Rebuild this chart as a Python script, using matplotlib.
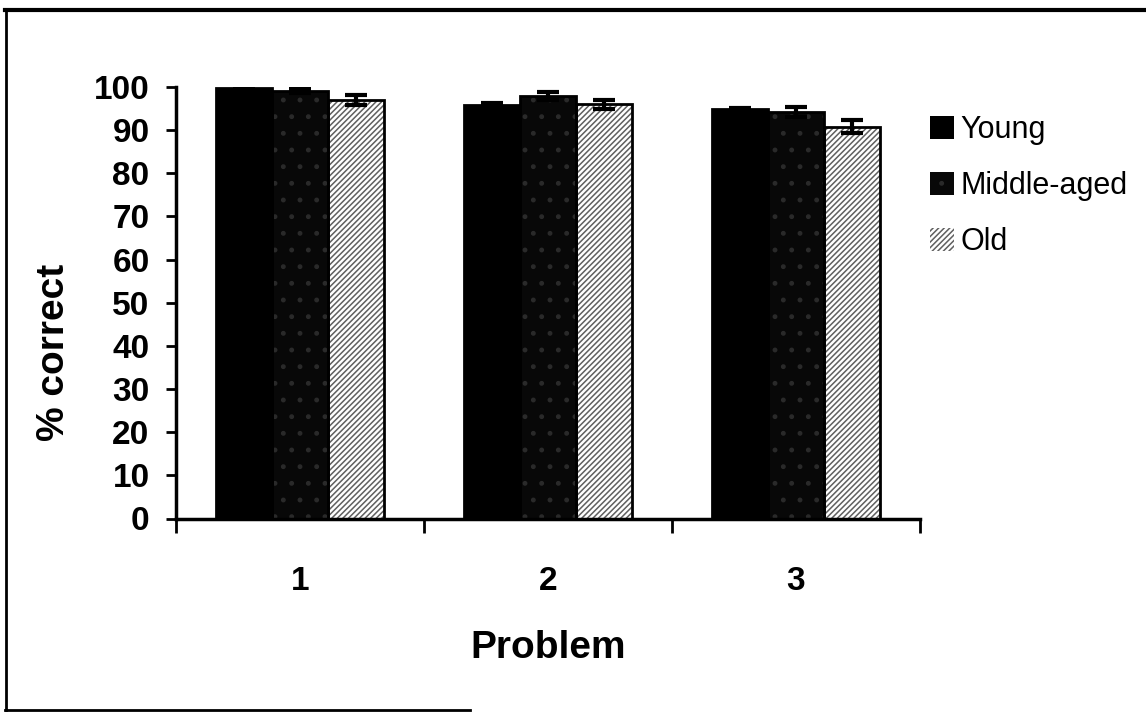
import matplotlib
matplotlib.use("Agg")
import matplotlib.pyplot as plt
import numpy as np
from matplotlib.lines import Line2D

categories = ["1", "2", "3"]
series_names = ["Young", "Middle-aged", "Old"]
young = [99.7, 95.8, 94.8]
young_err = [0.3, 0.4, 0.3]
middle = [99.0, 98.0, 94.2]
middle_err = [0.5, 0.9, 1.2]
old = [97.0, 96.0, 90.8]
old_err = [1.2, 1.1, 1.5]
yticks = [0, 10, 20, 30, 40, 50, 60, 70, 80, 90, 100]

NARROW = ["Liberation Sans Narrow", "Liberation Sans", "DejaVu Sans"]
BOLD = ["Liberation Sans", "DejaVu Sans"]
plt.rcParams["hatch.linewidth"] = 1.1

fig = plt.figure(figsize=(11.46, 7.15), dpi=100)
ax = fig.add_axes([176/1146, 1-518.5/715, (920-176)/1146, (518.5-87)/715])

x = np.arange(len(categories))
w = 0.225
offs = [-w, 0, w]
vals = [young, middle, old]
errs = [young_err, middle_err, old_err]
faces = ["black", "#080808", "white"]
hatches = [None, ".", "//////"]
hcols = ["black", "#2a2a2a", "#606060"]

handles = []
for i in range(3):
    b = ax.bar(x + offs[i], vals[i], w, color=faces[i], hatch=hatches[i],
               edgecolor=hcols[i], linewidth=0, zorder=2)
    ax.bar(x + offs[i], vals[i], w, facecolor="none", edgecolor="black",
           linewidth=2, zorder=3)
    ax.errorbar(x + offs[i], vals[i], yerr=errs[i], fmt="none", ecolor="black",
                elinewidth=3, capsize=8, capthick=3, zorder=4)
    handles.append(b)

ax.set_xlim(-0.5, 2.5)
ax.set_ylim(0, 100)
ax.set_yticks(yticks)
ax.set_yticklabels([str(t) for t in yticks], family=NARROW, fontweight="bold", fontsize=24)
ax.set_xticks([-0.5, 0.5, 1.5, 2.5], minor=False)
ax.set_xticklabels([])
ax.set_xticks(x, minor=True)
ax.set_xticklabels(categories, minor=True, family=NARROW, fontweight="bold", fontsize=24)
ax.tick_params(axis="x", which="major", direction="out", length=10, width=2)
ax.tick_params(axis="x", which="minor", length=0, pad=34)
ax.tick_params(axis="y", direction="out", length=7, width=2, pad=12)
for s in ["top", "right"]:
    ax.spines[s].set_visible(False)
for s in ["left", "bottom"]:
    ax.spines[s].set_linewidth(2.5)

ax.set_xlabel("Problem", family=NARROW, fontweight="bold", fontsize=28, labelpad=24)
ax.set_ylabel("% correct", family=BOLD, fontweight="bold", fontsize=28)
ax.yaxis.set_label_coords(-0.14, 0.386)

leg = fig.legend(handles, series_names, loc="upper left", bbox_to_anchor=(930/1146, 1-115/715),
                 frameon=False, prop={"family": NARROW, "size": 22},
                 handlelength=0.8, handleheight=0.8, handletextpad=0.2, labelspacing=0.85,
                 borderaxespad=0, borderpad=0)

# figure frame
fig.add_artist(Line2D([5/1146, 1], [1-10/715, 1-10/715], color="black", lw=3, transform=fig.transFigure))
fig.add_artist(Line2D([6/1146, 6/1146], [1-10/715, 1-710/715], color="black", lw=2, transform=fig.transFigure))
fig.add_artist(Line2D([5/1146, 470/1146], [1-710/715, 1-710/715], color="black", lw=2, transform=fig.transFigure))

fig.savefig("out.png", dpi=100)
